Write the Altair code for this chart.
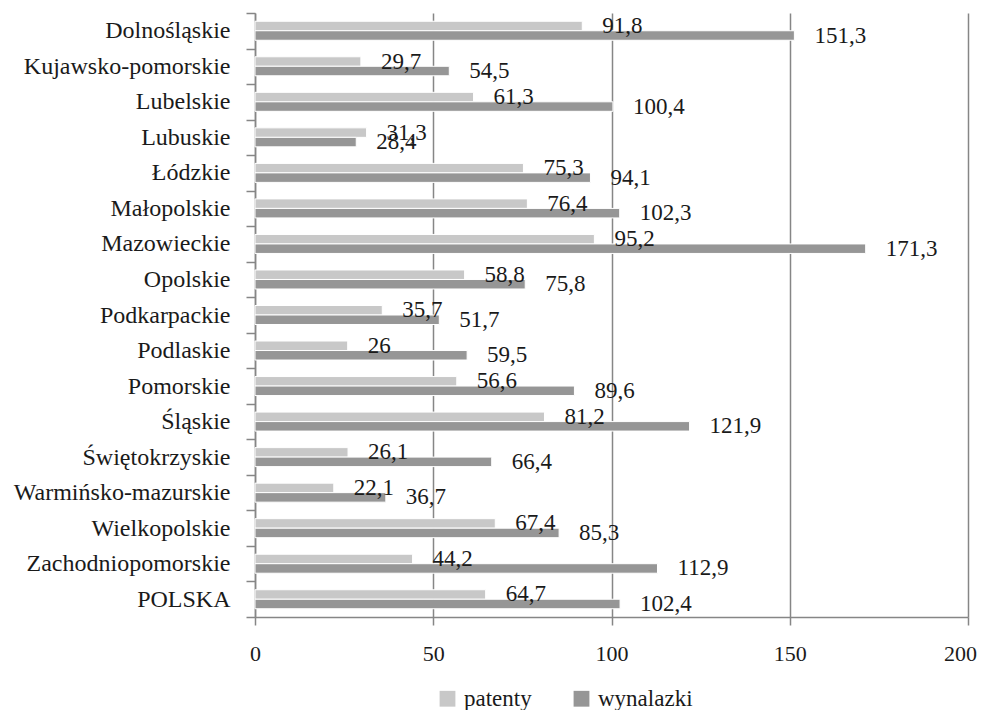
import altair as alt
import pandas as pd

regions = ["Dolnośląskie", "Kujawsko-pomorskie", "Lubelskie", "Lubuskie", "Łódzkie",
           "Małopolskie", "Mazowieckie", "Opolskie", "Podkarpackie", "Podlaskie",
           "Pomorskie", "Śląskie", "Świętokrzyskie", "Warmińsko-mazurskie",
           "Wielkopolskie", "Zachodniopomorskie", "POLSKA"]
patenty = [91.8, 29.7, 61.3, 31.3, 75.3, 76.4, 95.2, 58.8, 35.7, 26, 56.6, 81.2,
           26.1, 22.1, 67.4, 44.2, 64.7]
wynalazki = [151.3, 54.5, 100.4, 28.4, 94.1, 102.3, 171.3, 75.8, 51.7, 59.5, 89.6,
             121.9, 66.4, 36.7, 85.3, 112.9, 102.4]
series = ["patenty", "wynalazki"]
colors = ["#c8c8c8", "#969696"]
x_ticks = [0, 50, 100, 150, 200]

rows = []
for r, p, w in zip(regions, patenty, wynalazki):
    for s, v in zip(series, [p, w]):
        rows.append({"region": r, "series": s, "value": v,
                     "label": f"{v:g}".replace(".", ",")})
df = pd.DataFrame(rows)

FONT = "Liberation Serif"
GRID = "#868686"
TXT = "#1a1a1a"

# the source labels of these three categories carry a trailing space
label_expr = ("datum.label + (indexof(['Kujawsko-pomorskie','Warmińsko-mazurskie',"
              "'Zachodniopomorskie'], datum.label) >= 0 ? '\u00a0' : '')")

base = alt.Chart(df).encode(
    y=alt.Y("region:N", sort=regions,
            scale=alt.Scale(paddingInner=0, paddingOuter=0),
            axis=alt.Axis(title=None, tickBand="extent", domainColor=GRID, domainWidth=1.5,
                          tickColor=GRID, tickWidth=1.5, tickSize=9, labelPadding=16,
                          labelFont=FONT, labelFontSize=24, labelColor=TXT, labelLimit=400,
                          grid=False, labelExpr=label_expr)),
    yOffset=alt.YOffset("series:N", sort=series,
                        scale=alt.Scale(domain=series, paddingOuter=0.87, paddingInner=0)),
)

xenc = alt.X("value:Q",
             scale=alt.Scale(domain=[0, 200], nice=False),
             axis=alt.Axis(title=None, values=x_ticks, grid=True, gridColor=GRID, gridWidth=1.5,
                           domainColor=GRID, domainWidth=1.5, tickColor=GRID, tickWidth=1.5,
                           tickSize=8, labelPadding=18, labelFont=FONT, labelFontSize=22,
                           labelColor=TXT, labelFlush=False,
                           labelOffset=alt.condition("datum.value == 200",
                                                     alt.value(-8), alt.value(0))))

bars = base.mark_bar(stroke="white", strokeWidth=1).encode(
    x=xenc,
    color=alt.Color("series:N",
                    scale=alt.Scale(domain=series, range=colors),
                    legend=alt.Legend(title=None, orient="none", legendX=181, legendY=674,
                                      direction="horizontal", symbolType="square",
                                      symbolSize=250, symbolStrokeWidth=0, labelOffset=5,
                                      columnPadding=38, labelFont=FONT, labelFontSize=23,
                                      labelColor=TXT)),
)

text = base.mark_text(align="left", baseline="middle", dx=20, dy=0, font=FONT,
                      fontSize=23, color=TXT).encode(
    x=alt.X("value:Q"),
    text="label:N",
)

chart = alt.layer(bars, text).properties(
    width=713, height=604,
    autosize=alt.AutoSizeParams(type="none"),
    padding={"left": 247, "top": 5, "right": 9, "bottom": 93},
).configure_view(stroke=None)

chart.save("out.html", embed_options={"renderer": "svg", "actions": False})
